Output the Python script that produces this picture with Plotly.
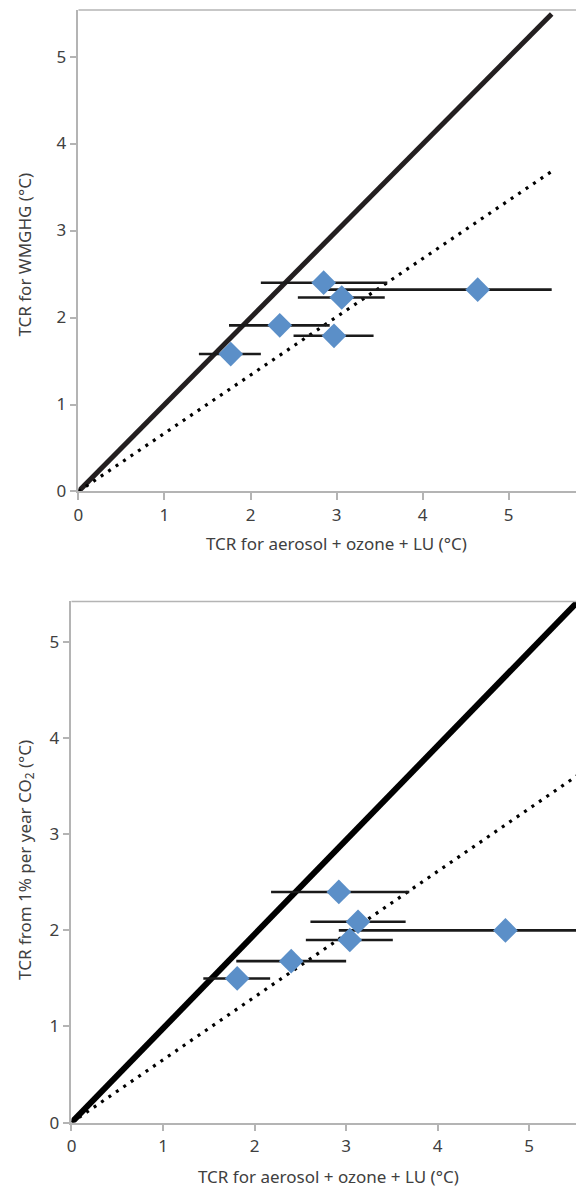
import plotly.graph_objects as go

# ---- data: top panel (TCR for WMGHG vs aerosol+ozone+LU) ----
top_x = [1.77, 2.34, 2.85, 3.06, 2.97, 4.64]
top_y = [1.58, 1.91, 2.40, 2.23, 1.79, 2.32]
top_xlow = [1.40, 1.75, 2.12, 2.55, 2.50, 2.90]
top_xhigh = [2.12, 2.92, 3.59, 3.56, 3.43, 5.50]
top_one_x = [0, 5.5]
top_one_y = [0, 5.49]
top_dot_x = [0, 5.5]
top_dot_y = [0, 3.68]

# ---- data: bottom panel (TCR from 1%/yr CO2 vs aerosol+ozone+LU) ----
bot_x = [2.92, 3.13, 4.74, 3.04, 2.40, 1.81]
bot_y = [2.40, 2.09, 2.00, 1.90, 1.68, 1.50]
bot_xlow = [2.18, 2.61, 2.92, 2.56, 1.80, 1.44]
bot_xhigh = [3.69, 3.65, 5.70, 3.51, 3.00, 2.17]
bot_one_x = [0, 5.55]
bot_one_y = [0, 5.44]
bot_dot_x = [0, 5.6]
bot_dot_y = [0, 3.66]

ticks = [0, 1, 2, 3, 4, 5]
x_title = "TCR for aerosol + ozone + LU (°C)"
top_y_title = "TCR for WMGHG (°C)"
bot_y_title = "TCR from 1% per year CO<sub>2</sub> (°C)"

# page body has an 8 px margin; the figure starts at (8, 8) in the window
OFF = 8
PW, PH = 584, 1198
W, H = PW - OFF, PH - OFF
FONT = "Noto Sans"
AXC = "#b4b4b4"
TXC = "#404040"
BLUE = "#5b8fc8"

def fx(px):
    return (px - OFF) / W

def fy(py):
    return 1 - (py - OFF) / H

fig = go.Figure()

def add_panel(xa, ya, one_x, one_y, one_col, one_w, dot_x, dot_y, px, py, lo, hi):
    fig.add_trace(go.Scatter(x=one_x, y=one_y, mode="lines",
                             line=dict(color=one_col, width=one_w),
                             xaxis=xa, yaxis=ya, showlegend=False, hoverinfo="skip"))
    fig.add_trace(go.Scatter(x=dot_x, y=dot_y, mode="lines",
                             line=dict(color="black", width=3.2, dash="3px,6px"),
                             xaxis=xa, yaxis=ya, showlegend=False, hoverinfo="skip"))
    plus = [h - x for h, x in zip(hi, px)]
    minus = [x - l for l, x in zip(lo, px)]
    fig.add_trace(go.Scatter(x=px, y=py, mode="markers",
                             marker=dict(symbol="diamond", size=19, color=BLUE,
                                         line=dict(width=0)),
                             error_x=dict(type="data", symmetric=False, array=plus,
                                          arrayminus=minus, color="#1a1a1a",
                                          thickness=2.6, width=0),
                             xaxis=xa, yaxis=ya, showlegend=False, cliponaxis=False))

add_panel("x", "y", top_one_x, top_one_y, "#231f20", 5, top_dot_x, top_dot_y,
          top_x, top_y, top_xlow, top_xhigh)
add_panel("x2", "y2", bot_one_x, bot_one_y, "black", 6, bot_dot_x, bot_dot_y,
          bot_x, bot_y, bot_xlow, bot_xhigh)

def axis_common():
    return dict(showgrid=False, zeroline=False, showline=True, linecolor=AXC,
                linewidth=1.5, ticks="outside", ticklen=7, tickcolor=AXC,
                tickwidth=1.5, tickvals=ticks, ticktext=[str(t) for t in ticks],
                tickfont=dict(family=FONT, size=17, color=TXC),
                mirror=False)

# pixel geometry (window coordinates) -> domains
top_l, top_t, top_b = 74, 10, 496
bot_l, bot_t, bot_b = 67, 607, 1133
top_ppu_x, top_ppu_y = 86.8, 87.8
bot_ppu_x, bot_ppu_y = 92.35, 97.0

xa1 = axis_common()
xa1.update(domain=[fx(top_l), 1.0], range=[0, (PW - top_l) / top_ppu_x], anchor="y")
ya1 = axis_common()
ya1.update(domain=[fy(top_b), fy(top_t)], range=[0, (top_b - top_t) / top_ppu_y], anchor="x")
xa2 = axis_common()
xa2.update(domain=[fx(bot_l), 1.0], range=[0, (PW - bot_l) / bot_ppu_x], anchor="y2")
ya2 = axis_common()
ya2.update(domain=[fy(bot_b), fy(bot_t)], range=[0, (bot_b - bot_t) / bot_ppu_y], anchor="x2")

tfont = dict(family=FONT, size=17, color=TXC)
annotations = [
    dict(text=x_title, x=fx(334), y=fy(548), xref="paper", yref="paper",
         xanchor="center", yanchor="middle", showarrow=False, font=tfont),
    dict(text=top_y_title, x=fx(20), y=fy(257), xref="paper", yref="paper",
         xanchor="center", yanchor="middle", showarrow=False, font=tfont, textangle=-90),
    dict(text=x_title, x=fx(326), y=fy(1187), xref="paper", yref="paper",
         xanchor="center", yanchor="middle", showarrow=False, font=tfont),
    dict(text=bot_y_title, x=fx(20), y=fy(868), xref="paper", yref="paper",
         xanchor="center", yanchor="middle", showarrow=False, font=tfont, textangle=-90),
]

fig.update_layout(
    width=W, height=H, margin=dict(l=0, r=0, t=0, b=0),
    paper_bgcolor="white", plot_bgcolor="white",
    xaxis=xa1, yaxis=ya1, xaxis2=xa2, yaxis2=ya2,
    font=dict(family=FONT, color=TXC),
    annotations=annotations,
)

# top border lines of each panel
fig.add_shape(type="line", xref="x domain", yref="y domain", x0=0, x1=1, y0=1, y1=1,
              line=dict(color=AXC, width=1.5))
fig.add_shape(type="line", xref="x2 domain", yref="y2 domain", x0=0, x1=0.986, y0=1, y1=1,
              line=dict(color=AXC, width=1.5))

fig.write_html("out.html")
